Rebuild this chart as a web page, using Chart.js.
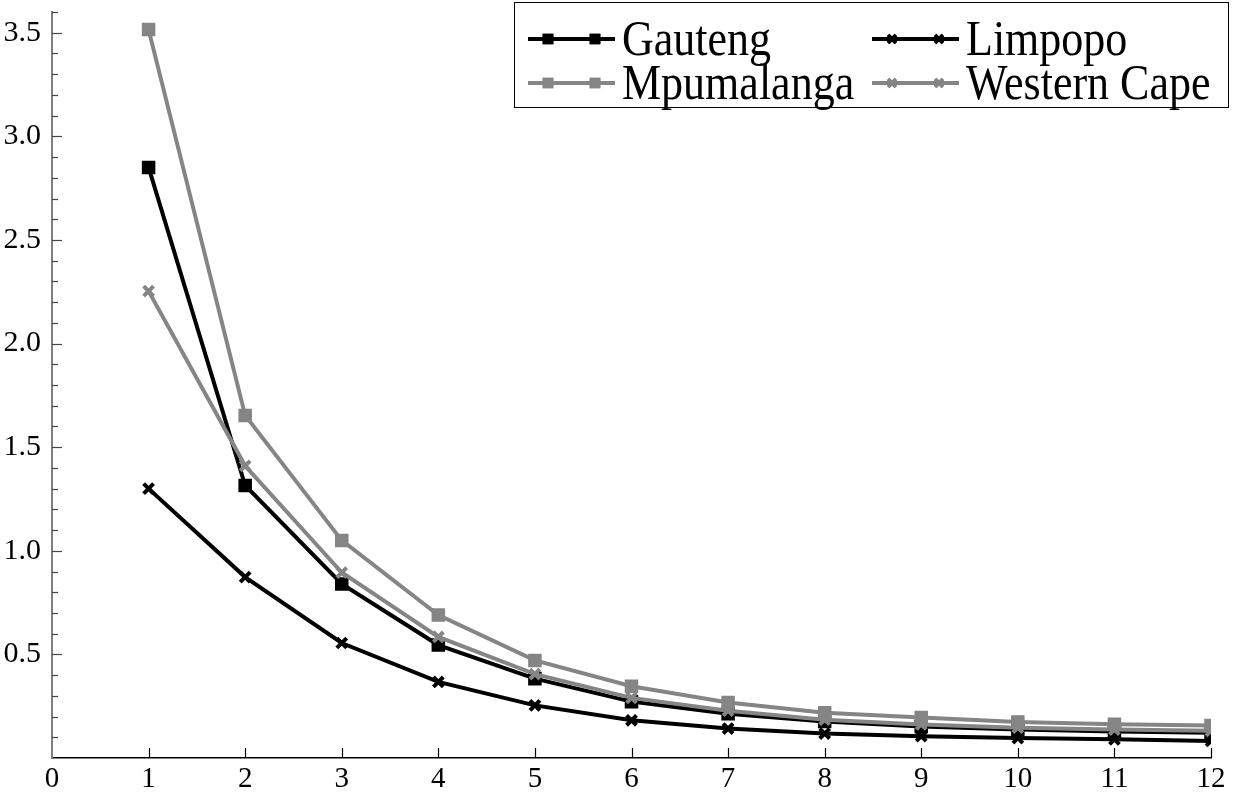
<!DOCTYPE html>
<html>
<head>
<meta charset="utf-8">
<script src="https://cdn.jsdelivr.net/npm/chart.js@4/dist/chart.umd.min.js"></script>
<style>
  html, body { margin: 0; padding: 0; background: #fff; }
  #wrap { width: 1234px; height: 792px; }
</style>
</head>
<body>
<div id="wrap"><canvas id="chart01"></canvas></div>
<script>
// values
var xValues = [1, 2, 3, 4, 5, 6, 7, 8, 9, 10, 11, 12];
var gauteng = [2.85, 1.315, 0.84, 0.545, 0.383, 0.272, 0.214, 0.176, 0.152, 0.138, 0.128, 0.122];
var limpopo = [1.30, 0.873, 0.555, 0.367, 0.254, 0.182, 0.142, 0.118, 0.105, 0.096, 0.090, 0.082];
var mpumalanga = [3.515, 1.653, 1.05, 0.69, 0.471, 0.346, 0.268, 0.218, 0.195, 0.174, 0.163, 0.157];
var westernCape = [2.253, 1.41, 0.895, 0.584, 0.405, 0.29, 0.228, 0.185, 0.162, 0.146, 0.137, 0.131];
var seriesNames = ['Gauteng', 'Limpopo', 'Mpumalanga', 'Western Cape'];

var BLACK = '#000000';
var GRAY = '#858585';
var FONT = '"Liberation Serif", "Times New Roman", serif';

function toPoints(ys) {
  return xValues.map(function(x, i) { return { x: x, y: ys[i] }; });
}

function makeSet(name, ys, color, style, order) {
  var isRect = style === 'rect';
  return {
    label: name,
    data: toPoints(ys),
    borderColor: color,
    backgroundColor: color,
    borderWidth: 4,
    pointStyle: style,
    pointRadius: isRect ? 8.5 : 7,
    pointBorderWidth: isRect ? 1.5 : 4,
    pointBorderColor: color,
    pointBackgroundColor: color,
    order: order,
    tension: 0
  };
}

// ticks drawn inward, like the original
var innerTicks = {
  id: 'innerTicks',
  afterDraw: function(chart) {
    var ctx = chart.ctx;
    var xs = chart.scales.x, ys = chart.scales.y;
    var area = chart.chartArea;
    ctx.save();
    ctx.lineWidth = 1.2;
    ctx.strokeStyle = '#444';
    ys.ticks.forEach(function(t) {
      var v = Math.round(t.value * 10);
      if (v === 0) return;
      var py = Math.round(ys.getPixelForValue(t.value)) + 0.5;
      var len = (v % 5 === 0) ? 10 : 6;
      ctx.beginPath();
      ctx.moveTo(area.left, py);
      ctx.lineTo(area.left + len, py);
      ctx.stroke();
    });
    ctx.strokeStyle = BLACK;
    xs.ticks.forEach(function(t) {
      if (t.value === 0) return;
      var px = Math.round(xs.getPixelForValue(t.value)) + 0.5;
      ctx.beginPath();
      ctx.moveTo(px, area.bottom);
      ctx.lineTo(px, area.bottom - 10);
      ctx.stroke();
    });
    ctx.restore();
  }
};

// legend box with the two-marker line samples
var boxLegend = {
  id: 'boxLegend',
  afterDraw: function(chart) {
    var ctx = chart.ctx;
    var left = 514, top = 2, right = 1228, bottom = 107;
    ctx.save();
    ctx.fillStyle = '#fff';
    ctx.fillRect(left, top, right - left, bottom - top);
    ctx.strokeStyle = BLACK;
    ctx.lineWidth = 1;
    ctx.strokeRect(left + 0.5, top + 0.5, right - left, bottom - top);
    var cols = [528, 872];
    var rows = [39, 83];
    seriesNames.forEach(function(name, k) {
      var ds = chart.data.datasets.filter(function(d) { return d.label === name; })[0];
      var x0 = cols[k % 2], y0 = rows[Math.floor(k / 2)];
      ctx.strokeStyle = ds.borderColor;
      ctx.lineWidth = 4;
      ctx.beginPath();
      ctx.moveTo(x0, y0);
      ctx.lineTo(x0 + 87, y0);
      ctx.stroke();
      [x0 + 20, x0 + 67].forEach(function(mx) {
        ctx.lineWidth = ds.pointStyle === 'rect' ? 1.5 : 3.5;
        Chart.helpers.drawPoint(ctx, { pointStyle: ds.pointStyle, radius: ds.pointStyle === 'rect' ? 6.5 : 5.5, borderWidth: ctx.lineWidth }, mx, y0);
        ctx.fillStyle = ds.borderColor;
        ctx.fill();
        ctx.stroke();
      });
      // serif text, a little taller than wide like the original
      ctx.save();
      ctx.translate(x0 + 94, y0 + 3);
      ctx.scale(1, 1.15);
      ctx.fillStyle = BLACK;
      ctx.font = '44px ' + FONT;
      ctx.textBaseline = 'middle';
      ctx.textAlign = 'left';
      ctx.fillText(ds.label, 0, 0);
      ctx.restore();
    });
    ctx.restore();
  }
};

window.addEventListener('load', function() {
  var ctx = document.getElementById('chart01');
  new Chart(ctx, {
    type: 'line',
    data: {
      datasets: [
        makeSet(seriesNames[0], gauteng, BLACK, 'rect', 4),
        makeSet(seriesNames[1], limpopo, BLACK, 'crossRot', 3),
        makeSet(seriesNames[2], mpumalanga, GRAY, 'rect', 2),
        makeSet(seriesNames[3], westernCape, GRAY, 'crossRot', 1)
      ]
    },
    options: {
      responsive: true,
      maintainAspectRatio: false,
      animation: false,
      events: [],
      layout: { padding: { left: 0, right: 23, top: 12, bottom: 0 } },
      plugins: {
        legend: { display: false },
        tooltip: { enabled: false },
        title: { display: false }
      },
      scales: {
        x: {
          type: 'linear',
          min: 0,
          max: 12,
          grid: { display: false },
          border: { display: true, color: BLACK, width: 1.5 },
          ticks: {
            stepSize: 1,
            autoSkip: false,
            padding: -4,
            color: BLACK,
            font: { family: FONT, size: 29 },
            maxRotation: 0
          },
          afterFit: function(scale) {
            scale.height = 34;
            scale.paddingLeft = 0;
            scale.paddingRight = 0;
          }
        },
        y: {
          type: 'linear',
          min: 0,
          max: 3.6,
          grid: { display: false },
          border: { display: true, color: '#808080', width: 2 },
          ticks: {
            stepSize: 0.1,
            autoSkip: false,
            padding: 3,
            color: BLACK,
            font: { family: FONT, size: 30 },
            callback: function(value) {
              var v = Math.round(value * 10);
              if (v === 0 || v % 5 !== 0) return '';
              return (v / 10).toFixed(1);
            }
          },
          afterFit: function(scale) {
            scale.width = 52;
            scale.paddingTop = 0;
            scale.paddingBottom = 0;
          }
        }
      }
    },
    plugins: [innerTicks, boxLegend]
  });
});
</script>
</body>
</html>
